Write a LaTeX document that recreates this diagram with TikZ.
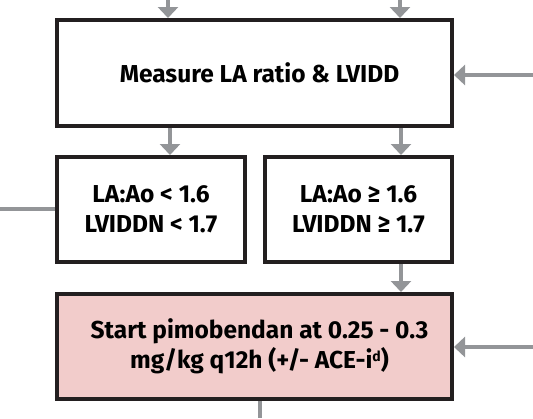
\documentclass[tikz,border=0pt]{standalone}
\usepackage{fontspec}
\setmainfont{Fira Sans}
\usetikzlibrary{arrows.meta}
\usepackage{xcolor}
\definecolor{BoxLine}{HTML}{231F20}
\definecolor{FlowGrey}{HTML}{939598}
\definecolor{TreatPink}{HTML}{F2CCCB}

\begin{document}
\begin{tikzpicture}[
	x=1pt, y=-1pt, % one unit is one pixel of the page
	% Style for the step boxes
	stepbox/.style={
		rectangle,
		draw=BoxLine,         % Box border colour
		fill=white,
		line width=4pt,
		align=center,
		inner sep=0pt,
		font=\fontsize{24.5}{30}\selectfont\bfseries
	},
	% Style for the grey connectors
	flow/.style={
		draw=FlowGrey,
		line width=4pt
	},
	% Same, ending in a triangle
	flow arrow/.style={
		flow,
		-{Triangle[width=20pt,length=11pt]}
	}
	]
	
	\useasboundingbox (0,0) rectangle (533,418);
	
	% 1. Boxes
	\node[stepbox, minimum width=395pt, minimum height=106pt] (measure) at (254.5,73) {\hspace*{10pt}Measure LA ratio \& LVIDD};
	\node[stepbox, minimum width=188pt, minimum height=105pt] (small) at (151,209.5) {LA:Ao < 1.6\\LVIDDN < 1.7};
	\node[stepbox, minimum width=187pt, minimum height=105pt] (large) at (358.5,209.5) {LA:Ao ≥ 1.6\\LVIDDN ≥ 1.7};
	\node[stepbox, fill=TreatPink, minimum width=395pt, minimum height=105pt] (pimo) at (254.5,346.5) {\hspace*{10pt}Start pimobendan at 0.25 - 0.3\\\hspace*{10pt}mg/kg q12h (+/- ACE-i{\fontsize{14}{14}\selectfont\raisebox{7pt}{d}})};
	
	% 2. Loose ends of the connectors
	\coordinate (top a) at (168,0);
	\coordinate (top b) at (400,0);
	\coordinate (side a) at (533,75);
	\coordinate (side b) at (533,347);
	\coordinate (out left) at (0,209);
	\coordinate (out down) at (260,418);
	
	% 3. Connectors
	\draw[flow arrow] (top a) -- (top a |- measure.north);
	\draw[flow arrow] (top b) -- (top b |- measure.north);
	\draw[flow arrow] (side a) -- (side a -| measure.east);
	
	\draw[flow arrow] (measure.south -| 170,0) -- (small.north -| 170,0);
	\draw[flow arrow] (measure.south -| 401,0) -- (large.north -| 401,0);
	
	\draw[flow] (small.west |- out left) -- (out left);
	
	\draw[flow arrow] (large.south -| 401,0) -- (pimo.north -| 401,0);
	\draw[flow arrow] (side b) -- (side b -| pimo.east);
	
	\draw[flow] (pimo.south -| out down) -- (out down);
	
\end{tikzpicture}
\end{document}
